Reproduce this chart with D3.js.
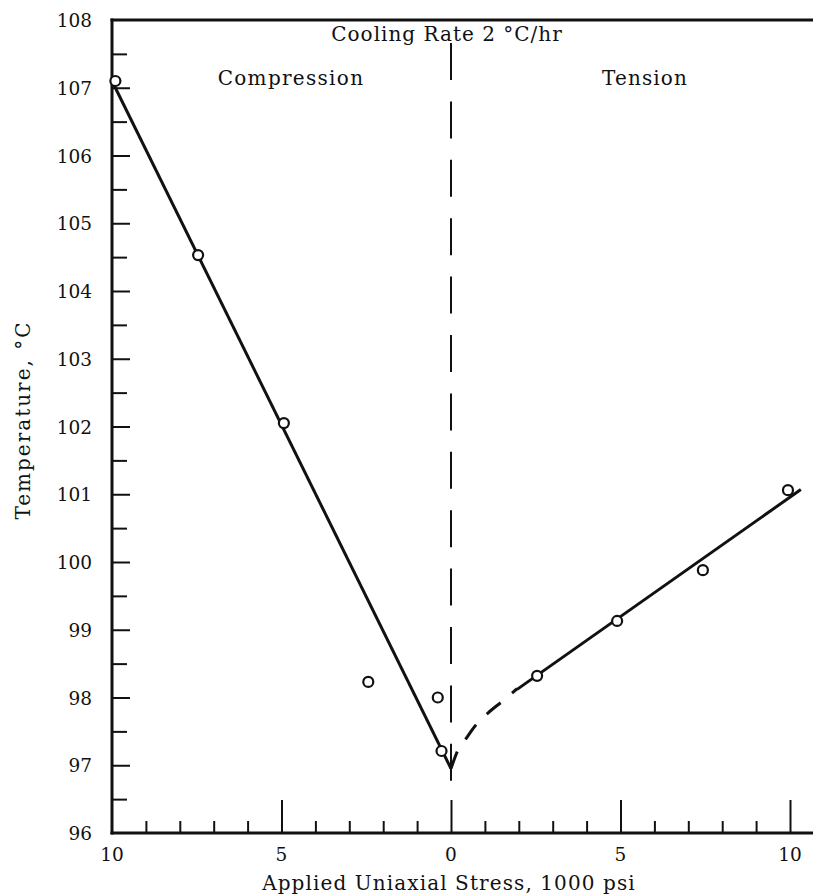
<!DOCTYPE html>
<html>
<head>
<meta charset="utf-8">
<script src="https://cdn.jsdelivr.net/npm/d3@7"></script>
<style>
  html, body { margin: 0; padding: 0; background: #fff; }
  svg text { font-family: "DejaVu Serif", "Liberation Serif", serif; fill: #111; }
</style>
</head>
<body>
<svg id="chart" width="813" height="896"></svg>
<script>
// ---- data (stress in 1000 psi: compression negative, tension positive) ----
const compStress = [-9.9, -7.46, -4.93, -2.44, -0.39, -0.28];
const compTemp   = [107.1, 104.53, 102.05, 98.23, 98.0, 97.21];
const tensStress = [2.54, 4.9, 7.43, 9.94];
const tensTemp   = [98.32, 99.13, 99.88, 101.06];
// fitted lines
const compLineStress = [-10, 0];
const compLineTemp   = [107.1, 96.95];
const dashStress = [0, 0.21, 0.41, 0.71, 1.09, 1.53, 1.95];
const dashTemp   = [96.95, 97.23, 97.37, 97.58, 97.77, 97.95, 98.13];
const tensLineStress = [1.95, 10.32];
const tensLineTemp   = [98.12, 101.07];
// axis ticks
const yMajorTicks = [96, 97, 98, 99, 100, 101, 102, 103, 104, 105, 106, 107, 108];
const yMinorTicks = [96.5, 97.5, 98.5, 99.5, 100.5, 101.5, 102.5, 103.5, 104.5, 105.5, 106.5, 107.5];
const xMinorTicks = [-9, -8, -7, -6, -4, -3, -2, -1, 1, 2, 3, 4, 6, 7, 8, 9];
const xMajorTicks = [-10, -5, 0, 5, 10];
const xLabelTicks = [-10, -5, 0, 5, 10];

const svg = d3.select("#chart");
const W = 813;
const x = d3.scaleLinear().domain([-10, 10]).range([112, 790]);
const y = d3.scaleLinear().domain([96, 108]).range([833, 20]);

// ---- frame lines ----
svg.append("line").attr("x1", x(-10)).attr("x2", x(-10)).attr("y1", y(108) - 1.5).attr("y2", y(96) + 1.5)
  .attr("stroke", "#111").attr("stroke-width", 3);
svg.append("line").attr("x1", x(-10) - 1.5).attr("x2", W).attr("y1", y(108)).attr("y2", y(108))
  .attr("stroke", "#111").attr("stroke-width", 3);
svg.append("line").attr("x1", x(-10) - 1.5).attr("x2", W).attr("y1", y(96)).attr("y2", y(96))
  .attr("stroke", "#111").attr("stroke-width", 3);

// ---- y axis ticks (inward) ----
const yAx = svg.append("g").attr("transform", `translate(${x(-10)},0)`)
  .call(d3.axisLeft(y).tickValues(yMajorTicks.filter(v => v > 96 && v < 108)).tickSize(-18).tickFormat(""));
const yAxMin = svg.append("g").attr("transform", `translate(${x(-10)},0)`)
  .call(d3.axisLeft(y).tickValues(yMinorTicks).tickSize(-15).tickFormat(""));
[yAx, yAxMin].forEach(g => {
  g.select(".domain").remove();
  g.selectAll(".tick line").attr("stroke", "#111").attr("stroke-width", 2);
});
// y labels
svg.append("g").selectAll("text").data(yMajorTicks).join("text")
  .attr("x", 92).attr("y", d => y(d) + 7)
  .attr("text-anchor", "end").attr("font-size", 18.5)
  .text(d => d);

// ---- x axis ticks (inward) ----
const xAxMin = svg.append("g").attr("transform", `translate(0,${y(96)})`)
  .call(d3.axisBottom(x).tickValues(xMinorTicks).tickSize(-12).tickFormat(""));
const xAxMaj = svg.append("g").attr("transform", `translate(0,${y(96)})`)
  .call(d3.axisBottom(x).tickValues(xMajorTicks.filter(v => v > -10)).tickSize(-33).tickFormat(""));
[xAxMin, xAxMaj].forEach(g => {
  g.select(".domain").remove();
  g.selectAll(".tick line").attr("stroke", "#111").attr("stroke-width", 2);
});
svg.append("g").selectAll("text").data(xLabelTicks).join("text")
  .attr("x", d => x(d)).attr("y", 861)
  .attr("text-anchor", "middle").attr("font-size", 18.5)
  .text(d => Math.abs(d));

// ---- vertical dashed line at zero stress ----
svg.append("line").attr("x1", x(0)).attr("x2", x(0)).attr("y1", 43).attr("y2", y(96) - 33)
  .attr("stroke", "#111").attr("stroke-width", 2).attr("stroke-dasharray", "37,21.4");

// ---- fitted lines ----
const lineGen = d3.line().x(d => x(d[0])).y(d => y(d[1]));
svg.append("path").datum(d3.zip(compLineStress, compLineTemp)).attr("d", lineGen)
  .attr("fill", "none").attr("stroke", "#111").attr("stroke-width", 3);
svg.append("path").datum(d3.zip(dashStress, dashTemp)).attr("d", lineGen.curve(d3.curveMonotoneX))
  .attr("fill", "none").attr("stroke", "#111").attr("stroke-width", 3).attr("stroke-dasharray", "18,15");
svg.append("path").datum(d3.zip(tensLineStress, tensLineTemp)).attr("d", d3.line().x(d => x(d[0])).y(d => y(d[1])))
  .attr("fill", "none").attr("stroke", "#111").attr("stroke-width", 3);

// ---- data points ----
const pts = d3.zip(compStress, compTemp).concat(d3.zip(tensStress, tensTemp));
svg.append("g").selectAll("circle").data(pts).join("circle")
  .attr("cx", d => x(d[0])).attr("cy", d => y(d[1])).attr("r", 5)
  .attr("fill", "#fff").attr("stroke", "#111").attr("stroke-width", 2.2);

// ---- annotations ----
svg.append("text").attr("x", 447).attr("y", 41).attr("text-anchor", "middle")
  .attr("font-size", 20).attr("letter-spacing", 1).text("Cooling Rate 2 °C/hr");
svg.append("text").attr("x", 291).attr("y", 85).attr("text-anchor", "middle")
  .attr("font-size", 20).attr("letter-spacing", 1.3).text("Compression");
svg.append("text").attr("x", 645).attr("y", 85).attr("text-anchor", "middle")
  .attr("font-size", 20).attr("letter-spacing", 1.1).text("Tension");

// ---- axis titles ----
svg.append("text").attr("x", 449).attr("y", 890).attr("text-anchor", "middle")
  .attr("font-size", 20).attr("letter-spacing", 1.1).text("Applied Uniaxial Stress, 1000 psi");
svg.append("text").attr("transform", "translate(30,420) rotate(-90)").attr("text-anchor", "middle")
  .attr("font-size", 20).attr("letter-spacing", 2).text("Temperature, °C");
</script>
</body>
</html>
